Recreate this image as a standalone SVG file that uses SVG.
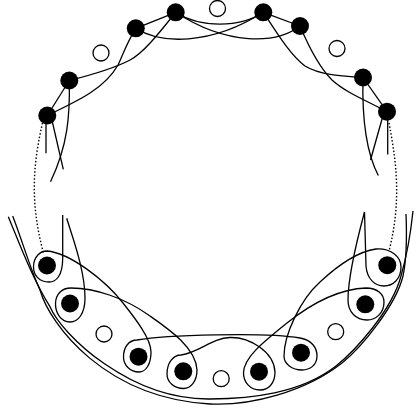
<svg xmlns="http://www.w3.org/2000/svg" width="419" height="412" viewBox="0 0 419 412">
<style>
.e{fill:none;stroke:#000;stroke-width:1.3}
.d{fill:none;stroke:#000;stroke-width:1.4;stroke-dasharray:1.5 2}
.n{fill:#000}
.o{fill:#fff;stroke:#000;stroke-width:1.3}
</style>
<rect width="419" height="412" fill="#fff"/>
<g id="connectors">
<path class="e" d="M47.3 115.5 L69.3 80.5"/>
<path class="e" d="M135.8 28.3 L175.7 12.3"/>
<path class="e" d="M263.3 12.3 L300 26"/>
<path class="e" d="M363 77.5 L387 111.7"/>
<path class="e" d="M69.3 80.5 C95 74 115 68 130 60 C145 52 163 28 175.7 12.3"/>
<path class="e" d="M47.3 115.5 C80 100 105 88 118 65 C122 57 127 42 135.8 28.3"/>
<path class="e" d="M135.8 28.3 C160 44 210 46 263.3 12.3"/>
<path class="e" d="M175.7 12.3 C227 46 277 44 300 26"/>
<path class="e" d="M175.7 12.3 C200 28 240 28 263.3 12.3"/>
<path class="e" d="M263.3 12.3 C275 30 290 55 305 66 C320 75 340 76 363 77.5"/>
<path class="e" d="M300 26 C308 45 318 66 332 80 C345 92 365 100 387 111.7"/>
<path class="e" d="M46 115 L46 153.3"/>
<path class="e" d="M51 116 L63.3 169.3"/>
<path class="e" d="M69.3 80.5 C70 115 68 145 50.5 181.7"/>
<path class="e" d="M387.7 111.7 L387.7 154.5"/>
<path class="e" d="M384 112 L370.5 160"/>
<path class="e" d="M363 77.5 C362 115 365 150 378.3 175.5"/>
<path class="d" d="M42.5 123 C34 160 29 200 43.5 253"/>
<path class="d" d="M389 123 C396 160 402 200 389 251"/>
<path class="e" d="M62.7 215 L62.7 258 C62.7 276 56 282 49 282 C40 282 33.5 276 33.5 267 C33.5 257 40 251 47 251 C70 253 105 280 123 303 C134 317 151 338 151 352 C151 364 146 372 139 372 C130 372 123.5 365 123.5 357 C123.5 347 129 340 137 340 C165 335 265 332 300 338 C312 340 317 348 317 356 C317 365 310 370 302 370 C292 370 284 364 284 356 C284 335 300 300 320 282 C335 268 355 252 376 249 C390 248 401 256 401 267 C401 279 393 286 384 286 C375 286 367 279 366 266 L364.5 212"/>
<path class="e" d="M66.7 218.3 C72 236 85 270 85 298 C85 314 78 322 70 322 C61 322 55.5 313 55.5 304 C55.5 294 62 288 71 288 C95 288 125 298 150 316 C170 330 196 348 197 370 C197 381 191 388.5 183.5 388.5 C174 388.5 167 382 167 374 C167 363 173 355 181 355 C200 352 212 338 230 337.5 C250 337 274 352 275 372 C275 384 268 390 260 390 C250 390 243.5 382 243.5 373 C243.5 358 262 343 287 323 C312 303 340 289 366 288 C377 288 384 294 384 302 C384 313 376 320 367 320 C356 320 348 312 348 300 C348 275 357 240 364.5 212"/>
<path class="e" d="M8.3 216.7 C20 245 33 280 50 306.7 C62 335 130 400 210 399 C250 398.5 300 394 336 366 C356 350 392 310 401 276 C405 262 410 240 413 211"/>
<path class="e" d="M12.7 216 C23 243 30 268 40 290 C50 325 105 398 210 404 C250 406 305 392 342 363 C362 347 396 305 403 276 C406 262 407 238 406 214"/>
</g>
<g id="A1"><circle class="n" cx="47.3" cy="115.5" r="9"/></g>
<g id="A2"><circle class="n" cx="69.3" cy="80.5" r="9"/></g>
<g id="O1"><circle class="o" cx="101" cy="53" r="8"/></g>
<g id="A3"><circle class="n" cx="135.8" cy="28.3" r="9"/></g>
<g id="A4"><circle class="n" cx="175.7" cy="12.3" r="9"/></g>
<g id="O2"><circle class="o" cx="217.5" cy="8.5" r="8"/></g>
<g id="B4"><circle class="n" cx="263.3" cy="12.3" r="9"/></g>
<g id="B3"><circle class="n" cx="300" cy="26" r="9"/></g>
<g id="O3"><circle class="o" cx="337" cy="48.5" r="8"/></g>
<g id="B2"><circle class="n" cx="363" cy="77.5" r="9"/></g>
<g id="B1"><circle class="n" cx="387" cy="111.7" r="9"/></g>
<g id="C1"><circle class="n" cx="47" cy="265.5" r="9"/></g>
<g id="C2"><circle class="n" cx="70" cy="303.5" r="9"/></g>
<g id="O4"><circle class="o" cx="104" cy="334" r="8"/></g>
<g id="C3"><circle class="n" cx="138.5" cy="356.7" r="9"/></g>
<g id="C4"><circle class="n" cx="183.3" cy="371.3" r="9"/></g>
<g id="O5"><circle class="o" cx="221.2" cy="378.7" r="8"/></g>
<g id="D4"><circle class="n" cx="259" cy="371.7" r="9"/></g>
<g id="D3"><circle class="n" cx="301" cy="352.7" r="9"/></g>
<g id="O6"><circle class="o" cx="335.7" cy="331.7" r="8"/></g>
<g id="D2"><circle class="n" cx="365.3" cy="304.3" r="9"/></g>
<g id="D1"><circle class="n" cx="387.3" cy="265.2" r="9"/></g>
</svg>
